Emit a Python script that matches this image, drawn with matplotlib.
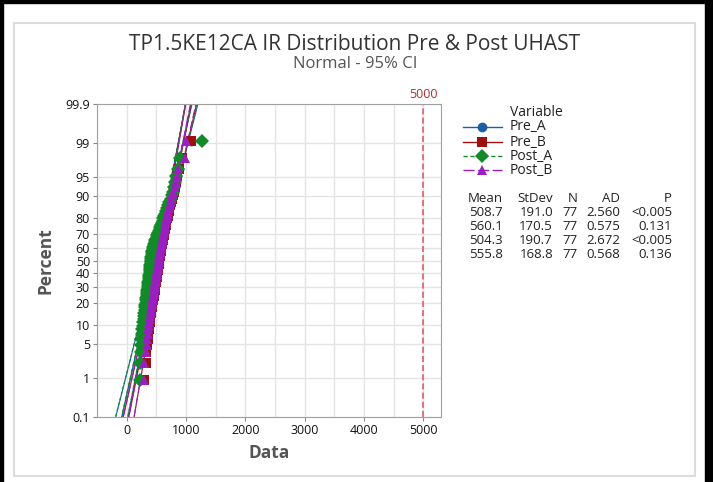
import matplotlib
matplotlib.use("Agg")
import matplotlib.pyplot as plt
import numpy as np
from statistics import NormalDist

plt.rcParams["font.family"] = ["Open Sans", "DejaVu Sans"]

# sorted sample values (77 per series)
pre_a = [230, 238, 245, 252, 258, 265, 272, 278, 285, 292,
         298, 305, 310, 315, 320, 325, 330, 335, 340, 345,
         350, 355, 360, 364, 368, 372, 376, 380, 384, 388,
         392, 395, 398, 401, 404, 407, 410, 414, 418, 422,
         426, 430, 435, 440, 446, 452, 460, 468, 476, 485,
         496, 508, 520, 532, 545, 558, 570, 583, 596, 610,
         624, 638, 652, 668, 684, 700, 718, 736, 755, 775,
         795, 815, 835, 855, 880, 920, 1080]
pre_b = [300, 320, 330, 345, 355, 362, 370, 380, 388, 395,
         402, 410, 416, 422, 428, 435, 441, 447, 454, 460,
         465, 470, 475, 480, 485, 490, 495, 500, 505, 510,
         515, 520, 524, 528, 532, 535, 538, 542, 545, 549,
         553, 557, 562, 567, 572, 577, 582, 587, 593, 600,
         606, 612, 618, 625, 631, 637, 644, 650, 657, 664,
         671, 680, 690, 700, 710, 720, 732, 745, 760, 775,
         793, 812, 830, 855, 880, 930, 1092]
post_a = [220, 225, 235, 245, 250, 258, 264, 270, 278, 285,
          292, 300, 305, 310, 315, 320, 325, 330, 335, 340,
          345, 350, 355, 360, 364, 368, 372, 375, 379, 383,
          387, 390, 393, 395, 398, 400, 403, 407, 410, 413,
          417, 420, 425, 430, 435, 440, 447, 455, 462, 470,
          482, 495, 508, 520, 532, 545, 558, 570, 582, 595,
          607, 620, 635, 650, 665, 680, 700, 720, 740, 760,
          780, 800, 820, 840, 860, 895, 1267]
post_b = [290, 300, 320, 335, 350, 358, 366, 375, 382, 390,
          397, 405, 411, 417, 424, 430, 436, 443, 449, 455,
          460, 465, 470, 475, 480, 485, 490, 495, 500, 505,
          510, 515, 519, 523, 527, 530, 533, 537, 540, 544,
          548, 552, 557, 562, 567, 572, 577, 582, 588, 595,
          601, 607, 613, 620, 626, 632, 639, 645, 652, 659,
          666, 675, 685, 695, 705, 715, 727, 740, 755, 770,
          788, 807, 825, 850, 870, 990, 1008]

names = ["Pre_A", "Pre_B", "Post_A", "Post_B"]
means = [508.7, 560.1, 504.3, 555.8]
stdevs = [191.0, 170.5, 190.7, 168.8]
counts = [77, 77, 77, 77]
ad_vals = ["2.560", "0.575", "2.672", "0.568"]
p_vals = ["<0.005", "0.131", "<0.005", "0.136"]

pct_ticks = [0.1, 1, 5, 10, 20, 30, 40, 50, 60, 70, 80, 90, 95, 99, 99.9]
pct_labels = ["0.1", "1", "5", "10", "20", "30", "40", "50", "60", "70",
              "80", "90", "95", "99", "99.9"]
x_ticks = [0, 1000, 2000, 3000, 4000, 5000]
ref_value = 5000

colors = ["#1a5ea8", "#9c1010", "#138a2a", "#9a1fbf"]
markers = ["o", "s", "D", "^"]
styles = ["-", "-", (0, (3, 2)), (0, (8, 2.5))]

nd = NormalDist()


def zq(p):
    return nd.inv_cdf(p)


def main() -> None:
    fig = plt.figure(figsize=(7.13, 4.82), dpi=100)

    # window frame bits
    fig.patches.append(plt.Rectangle((0, 1 - 3 / 482), 1, 3 / 482, transform=fig.transFigure,
                                     color="black", zorder=0))
    fig.patches.append(plt.Rectangle((0, 0), 3 / 713, 1, transform=fig.transFigure,
                                     color="black", zorder=0))
    fig.patches.append(plt.Rectangle((705 / 713, 0), 8 / 713, 1, transform=fig.transFigure,
                                     color="black", zorder=0))
    fig.patches.append(plt.Rectangle((14 / 713, 1 - 476 / 482), 681 / 713, 453 / 482,
                                     transform=fig.transFigure, fill=False,
                                     edgecolor="#dcdcdc", linewidth=1.5, zorder=0))

    ax = fig.add_axes([97 / 713, 1 - 417 / 482, 344 / 713, 313 / 482])
    zlim = zq(0.001)
    ax.set_ylim(zlim, -zlim)
    ax.set_xlim(-500, 5300)

    zz = np.linspace(zlim - 0.2, -zlim + 0.2, 200)
    for data, mu, sd, n, c, ls in zip([pre_a, pre_b, post_a, post_b], means, stdevs,
                                      counts, colors, styles):
        fit = mu + zz * sd
        se = sd * np.sqrt((1 + zz ** 2 / 2) / n)
        ax.plot(fit, zz, color=c, linestyle=ls, linewidth=1.0, zorder=2)
        ax.plot(fit + 1.96 * se, zz, color=c, linestyle=ls, linewidth=0.8, zorder=2)
        ax.plot(fit - 1.96 * se, zz, color=c, linestyle=ls, linewidth=0.8, zorder=2)

    for data, c, m in zip([pre_a, pre_b, post_a, post_b], colors, markers):
        n = len(data)
        pos = [zq((i - 0.3) / (n + 0.4)) for i in range(1, n + 1)]
        ax.plot(sorted(data), pos, linestyle="none", marker=m, color=c,
                markersize=7, markeredgewidth=0, zorder=3)

    ax.axvline(ref_value, color="#e0505a", linestyle=(0, (4, 2)), linewidth=1.1, zorder=2)
    ax.text(ref_value, -zlim + 0.06, "5000", color="#a83232", fontsize=9,
            ha="center", va="bottom")

    ax.set_yticks([zq(p / 100) for p in pct_ticks])
    ax.set_yticklabels(pct_labels)
    ax.set_xticks(x_ticks)
    ax.set_xticks(np.arange(-500, 5300, 500), minor=True)
    ax.grid(True, which="both", color="#e4e4e4", linewidth=1.0, zorder=0)
    ax.set_axisbelow(True)
    ax.tick_params(axis="both", which="major", labelsize=9, length=3, color="#888888",
                   labelcolor="#111111", pad=2)
    ax.tick_params(axis="x", which="minor", length=0)
    for s in ax.spines.values():
        s.set_color("#a0a0a0")

    ax.set_xlabel("Data", fontsize=12.5, color="#555555", fontweight="bold", labelpad=5)
    ax.set_ylabel("Percent", fontsize=12.5, color="#555555", fontweight="bold", labelpad=8)

    fig.text(355 / 713, 1 - 45 / 482, "TP1.5KE12CA IR Distribution Pre & Post UHAST",
             fontsize=15, color="#333333", ha="center", va="center")
    fig.text(355 / 713, 1 - 64 / 482, "Normal - 95% CI", fontsize=12, color="#555555",
             ha="center", va="center")

    # legend
    fig.text(510 / 713, 1 - 113 / 482, "Variable", fontsize=10, color="#222222", va="center")
    leg_y = [127, 142, 156, 170]
    for name, c, m, ls, y in zip(names, colors, markers, styles, leg_y):
        yf = 1 - y / 482
        fig.add_artist(plt.Line2D([463 / 713, 502 / 713], [yf, yf], color=c, linestyle=ls,
                                  linewidth=1.0, transform=fig.transFigure))
        fig.add_artist(plt.Line2D([482 / 713], [yf], color=c, marker=m, markersize=7,
                                  markeredgewidth=0, transform=fig.transFigure))
        fig.text(510 / 713, yf, name, fontsize=10, color="#222222", va="center")

    # stats table
    col_x = [503, 553, 578, 620, 672]
    headers = ["Mean", "StDev", "N", "AD", "P"]
    for x, h in zip(col_x, headers):
        fig.text(x / 713, 1 - 198 / 482, h, fontsize=9.5, color="#222222",
                 ha="right", va="center")
    row_y = [213, 227, 241, 255]
    for k, y in enumerate(row_y):
        row = [f"{means[k]:.1f}", f"{stdevs[k]:.1f}", str(counts[k]), ad_vals[k], p_vals[k]]
        for x, v in zip(col_x, row):
            fig.text(x / 713, 1 - y / 482, v, fontsize=9.5, color="#222222",
                     ha="right", va="center")

    fig.savefig("out.png", dpi=100)


if __name__ == "__main__":
    main()
